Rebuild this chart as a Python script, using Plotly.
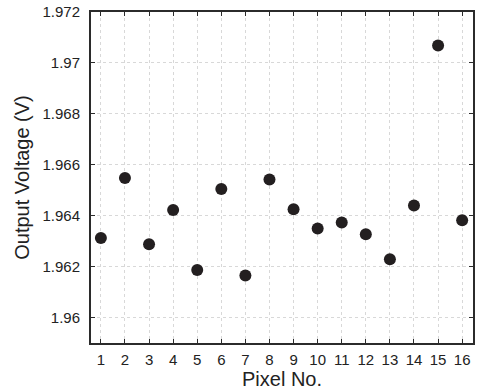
import plotly.graph_objects as go

# Output voltage measured on each pixel
pixel_no = list(range(1, 17))
output_voltage = [1.96312, 1.96548, 1.96288, 1.96422, 1.96187, 1.96505, 1.96165, 1.96542,
                  1.96425, 1.96350, 1.96373, 1.96327, 1.96229, 1.96440, 1.97068, 1.96382]
y_ticks = [1.96, 1.962, 1.964, 1.966, 1.968, 1.97, 1.972]
y_tick_text = ["1.96", "1.962", "1.964", "1.966", "1.968", "1.97", "1.972"]

FONT = "Liberation Sans, Arial"

fig = go.Figure(go.Scatter(
    x=pixel_no, y=output_voltage, mode="markers",
    marker=dict(size=12, color="#231f20"),
))

axis_common = dict(
    showline=True, linecolor="#2b2b2b", linewidth=2, mirror="ticks",
    ticks="inside", ticklen=4, tickcolor="#2b2b2b", tickwidth=1,
    showgrid=True, gridcolor="#d8d8d8", griddash="dot", gridwidth=1,
    zeroline=False,
    tickfont=dict(family=FONT, size=15, color="#222222"),
)

fig.update_xaxes(
    **axis_common, range=[0.59, 16.45], tickvals=pixel_no,
    ticklabelstandoff=2,
    title=dict(text="Pixel No.", font=dict(family=FONT, size=20, color="#222222"), standoff=4),
)
fig.update_yaxes(
    **axis_common, range=[1.959, 1.972], tickvals=y_ticks, ticktext=y_tick_text,
    ticklabelstandoff=6,
    title=dict(text="Output Voltage (V)", font=dict(family=FONT, size=20, color="#222222"), standoff=7),
)

fig.update_layout(
    width=478, height=391,
    margin=dict(l=91, r=3, t=10, b=48),
    paper_bgcolor="white", plot_bgcolor="white",
    showlegend=False,
)

fig.write_html("out.html")
